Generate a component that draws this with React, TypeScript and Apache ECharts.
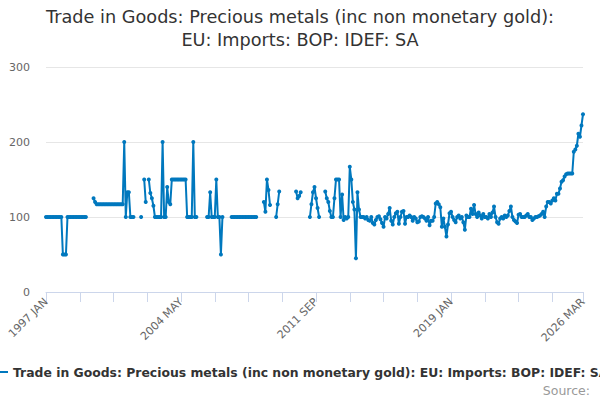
import React, { useEffect, useRef } from "react";
import * as echarts from "echarts";

const TITLE =
  "Trade in Goods: Precious metals (inc non monetary gold):\nEU: Imports: BOP: IDEF: SA";
const SERIES_NAME =
  "Trade in Goods: Precious metals (inc non monetary gold): EU: Imports: BOP: IDEF: SA";
const SOURCE_TEXT = "Source:";

const MONTHS = ["JAN", "FEB", "MAR", "APR", "MAY", "JUN", "JUL", "AUG", "SEP", "OCT", "NOV", "DEC"];
const START_YEAR = 1997;

// Monthly values, one row per year (1997 JAN .. 2026 MAR)
const v1997 = [100, 100, 100, 100, 100, 100, 100, 100, 100, 100, 100, 50];
const v1998 = [50, 50, 100, 100, 100, 100, 100, 100, 100, 100, 100, 100];
const v1999 = [100, 100, 100, null, null, null, null, 125, 120, 117, 117, 117];
const v2000 = [117, 117, 117, 117, 117, 117, 117, 117, 117, 117, 117, 117];
const v2001 = [117, 117, 117, 200, 100, 133, 133, 100, 100, 100, null, null];
const v2002 = [null, null, 100, null, 150, 120, null, 150, 132, 125, 115, 100];
const v2003 = [100, 100, 100, 100, 200, 100, 100, 140, 120, 117, 150, 150];
const v2004 = [150, 150, 150, 150, 150, 150, 150, 150, 100, 100, 100, 100];
const v2005 = [200, 100, 100, null, null, null, null, null, null, 100, 100, 133];
const v2006 = [100, 100, 100, 150, 100, 100, 50, 100, null, null, null, null];
const v2007 = [null, 100, 100, 100, 100, 100, 100, 100, 100, 100, 100, 100];
const v2008 = [100, 100, 100, 100, 100, 100, null, null, null, null, 120, 107];
const v2009 = [150, 136, 116, null, null, null, 100, 117, 134, null, null, null];
const v2010 = [null, null, null, null, null, null, null, 134, 125, 128, 133, null];
const v2011 = [null, null, null, null, 100, 117, 133, 140, 125, 112, 100, null];
const v2012 = [null, null, 134, 125, 120, 108, 100, 100, 125, 150, 150, 150];
const v2013 = [100, 130, 96, 100, 98, 100, 167, 150, 120, 110, 45, 133];
const v2014 = [110, 100, 100, 100, 98, 100, 96, 95, 100, 92, 90, 96];
const v2015 = [100, 101, 97, 92, 87, 100, 98, 104, 112, 95, 90, 100];
const v2016 = [105, 107, 91, 100, 107, 108, 91, 100, 100, 102, 100, 95];
const v2017 = [100, 98, 93, 94, 100, 101, 100, 98, 95, 100, 89, 95];
const v2018 = [95, 100, 118, 120, 117, 113, 87, 98, 87, 74, 90, 105];
const v2019 = [107, 100, 96, 93, 100, 102, 98, 100, 93, 83, 102, 100];
const v2020 = [100, 111, 104, 116, 104, 100, 106, 102, 98, 104, 100, 100];
const v2021 = [98, 104, 100, 106, 114, 100, 93, 91, 98, 100, 98, 102];
const v2022 = [100, 102, 108, 114, 100, 96, 94, 92, 103, 104, 100, 100];
const v2023 = [100, 102, 104, 100, 100, 96, 98, 100, 100, 101, 102, 104];
const v2024 = [107, 100, 114, 120, 120, 118, 122, 125, 122, 131, 131, 138];
const v2025 = [147, 149, 154, 157, 158, 158, 158, 158, 187, 190, 195, 211];
const v2026 = [207, 222, 237];

const VALUES: (number | null)[] = [
  ...v1997, ...v1998, ...v1999, ...v2000, ...v2001, ...v2002, ...v2003, ...v2004,
  ...v2005, ...v2006, ...v2007, ...v2008, ...v2009, ...v2010, ...v2011, ...v2012,
  ...v2013, ...v2014, ...v2015, ...v2016, ...v2017, ...v2018, ...v2019, ...v2020,
  ...v2021, ...v2022, ...v2023, ...v2024, ...v2025, ...v2026,
];

const CATEGORIES = VALUES.map(
  (_, i) => `${START_YEAR + Math.floor(i / 12)} ${MONTHS[i % 12]}`
);

const Y_MIN = 0;
const Y_MAX = 300;
const Y_INTERVAL = 100;
const TICK_STEP = 22;
const LABEL_STEP = 88;

const FONT = "DejaVu Sans";
const LINE_COLOR = "#0078BE";

export default function App() {
  const ref = useRef<HTMLDivElement>(null);

  useEffect(() => {
    if (!ref.current) return;
    const chart = echarts.init(ref.current, undefined, { renderer: "svg" });
    const last = CATEGORIES.length - 1;
    chart.setOption({
      animation: false,
      backgroundColor: "#ffffff",
      textStyle: { fontFamily: FONT },
      title: {
        text: TITLE,
        left: "center",
        top: 0,
        textStyle: {
          fontFamily: FONT,
          fontSize: 17.7,
          fontWeight: "normal",
          color: "#333333",
          lineHeight: 23,
        },
      },
      legend: {
        data: [{ name: SERIES_NAME, icon: "rect" }],
        left: -8,
        top: 366,
        padding: 0,
        itemWidth: 16,
        itemHeight: 2,
        textStyle: {
          fontFamily: FONT,
          fontSize: 12.4,
          fontWeight: "bold",
          color: "#333333",
        },
      },
      grid: { left: 46, right: 17, top: 67, bottom: 108, containLabel: false },
      xAxis: {
        type: "category",
        data: CATEGORIES,
        boundaryGap: false,
        axisLine: { lineStyle: { color: "#ccd6eb", width: 1 } },
        axisTick: {
          show: true,
          length: 10,
          interval: (i: number) => i % TICK_STEP === 0 || i === last,
          lineStyle: { color: "#ccd6eb" },
        },
        axisLabel: {
          interval: (i: number) => i % LABEL_STEP === 0 || i === last,
          rotate: 45,
          margin: 8,
          fontFamily: FONT,
          fontSize: 11,
          color: "#666666",
        },
        splitLine: { show: false },
      },
      yAxis: {
        type: "value",
        min: Y_MIN,
        max: Y_MAX,
        interval: Y_INTERVAL,
        axisLine: { show: false },
        axisTick: { show: false },
        axisLabel: { margin: 16, fontFamily: FONT, fontSize: 11, color: "#666666" },
        splitLine: { lineStyle: { color: "#e6e6e6", width: 1 } },
      },
      series: [
        {
          name: SERIES_NAME,
          type: "line",
          data: VALUES,
          connectNulls: false,
          showSymbol: true,
          showAllSymbol: true,
          symbol: "circle",
          symbolSize: 4,
          color: LINE_COLOR,
          itemStyle: { color: LINE_COLOR },
          lineStyle: { color: LINE_COLOR, width: 2 },
        },
      ],
      graphic: [
        {
          type: "text",
          right: 10,
          top: 384,
          style: {
            text: SOURCE_TEXT,
            fill: "#999999",
            font: `12.5px "${FONT}"`,
          },
        },
      ],
    });
    return () => chart.dispose();
  }, []);

  return (
    <div
      ref={ref}
      style={{ position: "absolute", left: 0, top: 0, width: 600, height: 400 }}
    />
  );
}
